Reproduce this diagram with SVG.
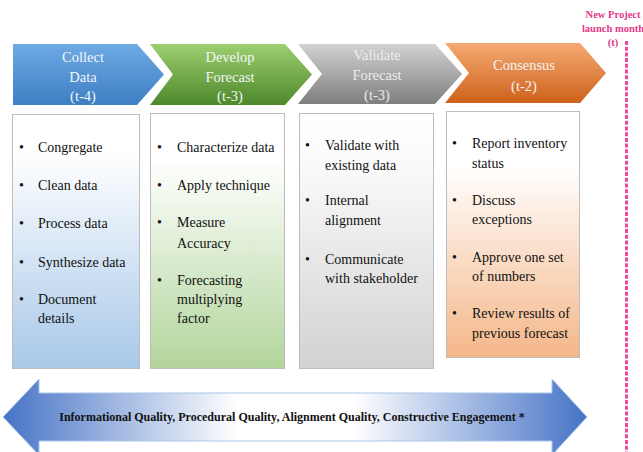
<svg xmlns="http://www.w3.org/2000/svg" width="643" height="452" viewBox="0 0 643 452">
<defs>
<linearGradient id="gBlue" x1="0" y1="0" x2="0" y2="1"><stop offset="0" stop-color="#6eaae4"/><stop offset="1" stop-color="#3d7fc3"/></linearGradient>
<linearGradient id="gGreen" x1="0" y1="0" x2="0" y2="1"><stop offset="0" stop-color="#9dcf70"/><stop offset="1" stop-color="#4d882b"/></linearGradient>
<linearGradient id="gGrey" x1="0" y1="0" x2="0" y2="1"><stop offset="0" stop-color="#d2d2d2"/><stop offset="1" stop-color="#7e7e7e"/></linearGradient>
<linearGradient id="gOrange" x1="0" y1="0" x2="0" y2="1"><stop offset="0" stop-color="#f4aa72"/><stop offset="1" stop-color="#cf611b"/></linearGradient>
<linearGradient id="bBlue" x1="0" y1="0" x2="0" y2="1"><stop offset="0" stop-color="#ffffff"/><stop offset="0.15" stop-color="#ffffff"/><stop offset="1" stop-color="#a8c8e9"/></linearGradient>
<linearGradient id="bGreen" x1="0" y1="0" x2="0" y2="1"><stop offset="0" stop-color="#ffffff"/><stop offset="0.18" stop-color="#ffffff"/><stop offset="1" stop-color="#b2d59b"/></linearGradient>
<linearGradient id="bGrey" x1="0" y1="0" x2="0" y2="1"><stop offset="0" stop-color="#ffffff"/><stop offset="0.18" stop-color="#fbfbfb"/><stop offset="1" stop-color="#d2d2d2"/></linearGradient>
<linearGradient id="bOrange" x1="0" y1="0" x2="0" y2="1"><stop offset="0" stop-color="#ffffff"/><stop offset="0.22" stop-color="#ffffff"/><stop offset="1" stop-color="#f4b789"/></linearGradient>
<linearGradient id="gArrow" x1="3" y1="0" x2="587" y2="0" gradientUnits="userSpaceOnUse"><stop offset="0" stop-color="#4673c6"/><stop offset="0.4" stop-color="#ffffff"/><stop offset="0.6" stop-color="#ffffff"/><stop offset="1" stop-color="#4673c6"/></linearGradient>
</defs>
<style>
.ch{font-family:"Liberation Serif","Times New Roman",serif;font-size:14.5px;fill:#f2f5f8;text-anchor:middle}
.chg{fill:#ececec}
.box{stroke:#bdbdbd;stroke-width:1}
.t{font-family:"Liberation Serif","Times New Roman",serif;font-size:14px;fill:#111}
.lbl{font-family:"Liberation Serif","Times New Roman",serif;font-size:10.5px;font-weight:bold;fill:#e3388a;text-anchor:middle}
.q{font-family:"Liberation Serif","Times New Roman",serif;font-size:12px;font-weight:bold;fill:#111;text-anchor:middle}
</style>
<rect width="643" height="452" fill="#ffffff"/>

<g id="collect-data">
<polygon points="13,44 137,44 164,74.5 137,105 13,105" fill="url(#gBlue)"/>
<text class="ch" x="83" y="62">Collect</text>
<text class="ch" x="83" y="82">Data</text>
<text class="ch" x="83" y="101">(t-4)</text>
</g>
<g id="develop-forecast">
<polygon points="150,44 285,44 312,74.5 285,105 150,105 173,74.5" fill="url(#gGreen)"/>
<text class="ch" x="230" y="62">Develop</text>
<text class="ch" x="230" y="82">Forecast</text>
<text class="ch" x="230" y="101">(t-3)</text>
</g>
<g id="validate-forecast">
<polygon points="298,44 435,44 462,74 435,104 298,104 322,74" fill="url(#gGrey)"/>
<text class="ch chg" x="377" y="60">Validate</text>
<text class="ch chg" x="377" y="80">Forecast</text>
<text class="ch chg" x="377" y="100">(t-3)</text>
</g>
<g id="consensus">
<polygon points="445,43 580,43 606,73 580,103 445,103 469,73" fill="url(#gOrange)"/>
<text class="ch" x="524" y="70">Consensus</text>
<text class="ch" x="524" y="91">(t-2)</text>
</g>

<g id="box-collect">
<rect class="box" x="12.5" y="114.5" width="127" height="254" fill="url(#bBlue)"/>
<text class="t" x="19" y="152">•</text><text class="t" x="38" y="152">Congregate</text>
<text class="t" x="19" y="190">•</text><text class="t" x="38" y="190">Clean data</text>
<text class="t" x="19" y="228">•</text><text class="t" x="38" y="228">Process data</text>
<text class="t" x="19" y="267">•</text><text class="t" x="38" y="267">Synthesize data</text>
<text class="t" x="19" y="304">•</text><text class="t" x="38" y="304">Document</text>
<text class="t" x="38" y="323">details</text>
</g>
<g id="box-develop">
<rect class="box" x="150.5" y="113.5" width="134" height="255" fill="url(#bGreen)"/>
<text class="t" x="157" y="152">•</text><text class="t" x="177" y="152">Characterize data</text>
<text class="t" x="157" y="190">•</text><text class="t" x="177" y="190">Apply technique</text>
<text class="t" x="157" y="227">•</text><text class="t" x="177" y="227">Measure</text>
<text class="t" x="177" y="248">Accuracy</text>
<text class="t" x="157" y="285">•</text><text class="t" x="177" y="285">Forecasting</text>
<text class="t" x="177" y="304">multiplying</text>
<text class="t" x="177" y="323">factor</text>
</g>
<g id="box-validate">
<rect class="box" x="299.5" y="113.5" width="134" height="255" fill="url(#bGrey)"/>
<text class="t" x="305" y="150">•</text><text class="t" x="325" y="150">Validate with</text>
<text class="t" x="325" y="170">existing data</text>
<text class="t" x="305" y="205">•</text><text class="t" x="325" y="205">Internal</text>
<text class="t" x="325" y="225">alignment</text>
<text class="t" x="305" y="264">•</text><text class="t" x="325" y="264">Communicate</text>
<text class="t" x="325" y="283">with stakeholder</text>
</g>
<g id="box-consensus">
<rect class="box" x="446.5" y="111.5" width="133" height="246" fill="url(#bOrange)"/>
<text class="t" x="452" y="148">•</text><text class="t" x="472" y="148">Report inventory</text>
<text class="t" x="472" y="168">status</text>
<text class="t" x="452" y="205">•</text><text class="t" x="472" y="205">Discuss</text>
<text class="t" x="472" y="224">exceptions</text>
<text class="t" x="452" y="262">•</text><text class="t" x="472" y="262">Approve one set</text>
<text class="t" x="472" y="281">of numbers</text>
<text class="t" x="452" y="318">•</text><text class="t" x="472" y="318">Review results of</text>
<text class="t" x="472" y="338">previous forecast</text>
</g>

<g id="launch-marker">
<text class="lbl" x="613" y="18">New Project</text>
<text class="lbl" x="613" y="32">launch month</text>
<text class="lbl" x="613" y="46">(t)</text>
</g>

<g id="connectors">
<line x1="626.5" y1="41" x2="626.5" y2="452" stroke="#ec4b98" stroke-width="3" stroke-dasharray="4,1.7"/>
</g>

<g id="quality-arrow">
<polygon points="3,417 39,379 39,393 552,393 552,379 587,417 552,455 552,441 39,441 39,455" fill="url(#gArrow)" stroke="#a9c6e8" stroke-width="1"/>
<text class="q" x="292" y="421">Informational Quality, Procedural Quality, Alignment Quality, Constructive Engagement *</text>
</g>
</svg>
